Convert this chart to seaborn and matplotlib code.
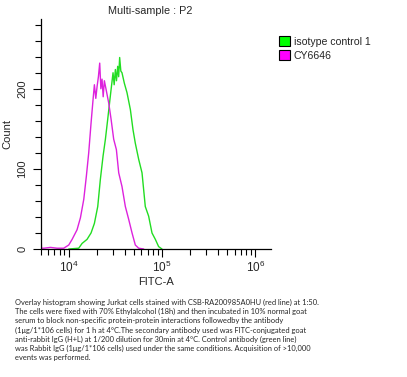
import matplotlib
matplotlib.use('Agg')
import matplotlib.pyplot as plt
from matplotlib.patches import Patch
import numpy as np
import pandas as pd
import seaborn as sns

cy_fitc = [5060, 5100, 5400, 6370, 7500, 8830, 10000, 10860, 12270, 13340, 14490, 15450,
           16370, 17340, 18240, 18840, 19500, 20140, 20800, 21480, 22100, 22750, 23400,
           24100, 25350, 26850, 28440, 30340, 32430, 34360, 37240, 40460, 43950, 47750,
           51760, 56230, 63680]
cy_count = [12, 1, 1, 2, 1, 1, 5, 12, 24, 39, 62, 91,
            120, 157, 187, 205, 188, 203, 215, 232, 200, 212, 190,
            210, 197, 182, 162, 137, 124, 95, 78, 53, 37, 20,
            5, 1, 0]

iso_fitc = [10000, 12790, 13900, 15700, 17340, 18840, 20460, 21830, 23330, 24720, 26180,
            27930, 29850, 30700, 31620, 32500, 33500, 34300, 35160, 36200, 37240, 39450,
            42170, 45810, 48870, 51760, 56230, 61090, 66220, 71940, 78160, 84920, 92040,
            100000]
iso_count = [0, 1, 7, 12, 20, 32, 53, 87, 116, 137, 162,
             191, 220, 205, 224, 210, 228, 215, 239, 222, 220, 207,
             195, 174, 149, 132, 112, 95, 53, 41, 20, 12, 3,
             0]

labels = ['isotype control 1', 'CY6646']
colors = ['#22dd22', '#dd22dd']
caption = ("Overlay histogram showing Jurkat cells stained with CSB-RA200985A0HU (red line) at 1:50.\n"
           "The cells were fixed with 70% Ethylalcohol (18h) and then incubated in 10% normal goat\n"
           "serum to block non-specific protein-protein interactions followedby the antibody\n"
           "(1\u03bcg/1*106 cells) for 1 h at 4\u00b0C.The secondary antibody used was FITC-conjugated goat\n"
           "anti-rabbit IgG (H+L) at 1/200 dilution for 30min at 4\u00b0C. Control antibody (green line)\n"
           "was Rabbit IgG (1\u03bcg/1*106 cells) used under the same conditions. Acquisition of >10,000\n"
           "events was performed.")

df = pd.concat([
    pd.DataFrame({'FITC-A': iso_fitc, 'Count': iso_count, 'sample': labels[0]}),
    pd.DataFrame({'FITC-A': cy_fitc, 'Count': cy_count, 'sample': labels[1]}),
])

sns.set_style('ticks')
plt.rcParams['font.family'] = ['Liberation Sans', 'DejaVu Sans']

fig = plt.figure(figsize=(4.07, 3.77), dpi=100)
ax = fig.add_axes([0.1, 0.3395, 0.566, 0.61])

sns.lineplot(data=df, x='FITC-A', y='Count', hue='sample', hue_order=labels,
             palette=dict(zip(labels, colors)), linewidth=1, legend=False,
             estimator=None, sort=False, ax=ax)

ax.set_xscale('log')
ax.set_xlim(5000, 1.48e6)
ax.set_ylim(0, 287)
ax.set_yticks([0, 100, 200])
ax.set_yticks(np.arange(20, 287, 20), minor=True)
ax.set_yticklabels(['0', '100', '200'], rotation=90, va='center', fontsize=8)
ax.tick_params(axis='x', labelsize=8.5, pad=2)
ax.tick_params(which='major', length=6, width=0.8, color='black')
ax.tick_params(which='minor', length=4, width=0.8, color='black')
for s in ['top', 'right']:
    ax.spines[s].set_visible(False)
for s in ['left', 'bottom']:
    ax.spines[s].set_color('black')
    ax.spines[s].set_linewidth(0.9)
ax.set_xlabel('FITC-A', fontsize=8, labelpad=1)
ax.set_ylabel('Count', fontsize=8, labelpad=4)

fig.text(0.369, 0.972, 'Multi-sample : P2', ha='center', va='center', fontsize=7.8)

handles = [Patch(facecolor=c.replace('22dd22', '00ff00').replace('dd22dd', 'ff00ff'),
                 edgecolor='black', linewidth=0.8) for c in colors]
fig.legend(handles, labels, loc='upper left', bbox_to_anchor=(0.675, 0.915),
           frameon=False, fontsize=7.6, handlelength=1.0, handleheight=1.0,
           handletextpad=0.4, labelspacing=0.35, borderaxespad=0)

fig.text(0.037, 0.208, caption, ha='left', va='top', fontsize=5.45, family='Lato',
         linespacing=1.36)

fig.savefig('out.png', dpi=100, facecolor='white')
